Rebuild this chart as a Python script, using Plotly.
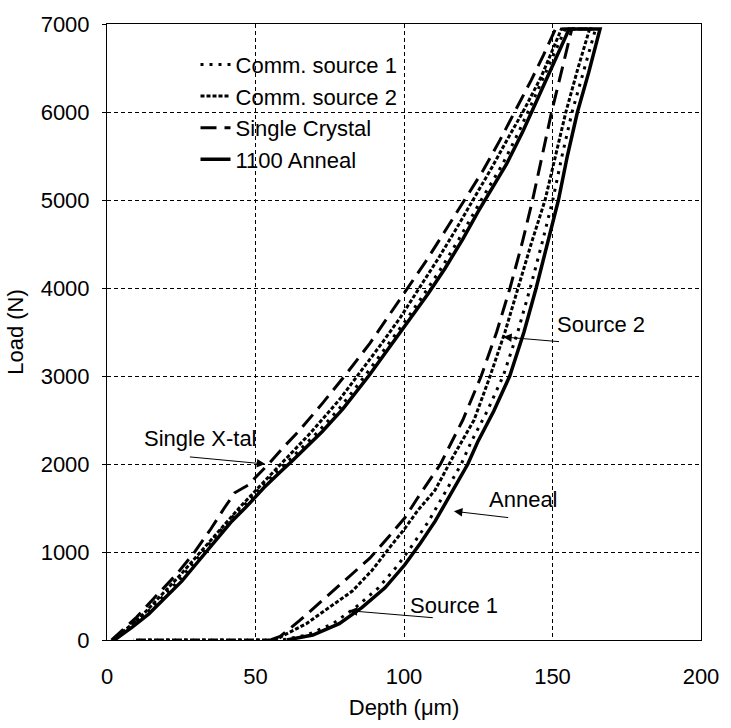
import plotly.graph_objects as go

# ---------------- data (depth in micrometres, load in N) ----------------
# Comm. source 1 : loading then unloading
c1_depth = [2, 7.5, 13, 18.5, 24, 29.5, 35, 40.5, 46, 51.5, 57.2, 61.2, 71.2, 78.2, 86.8, 96.1,
            101, 106.7, 112.5, 118.5, 123.7, 126.7, 133.2, 138.7, 144.2, 149.2, 154.3,
            164.5, 160.5, 156.6, 153.2, 150.1, 146.4, 142.5, 138.3, 133.4, 128, 122.6, 119.3,
            114.3, 108.3, 103.3, 98, 91.4, 83.7, 76, 67.3, 58.8, 9]
c1_load = [0, 148, 297, 483, 669, 892, 1115, 1338, 1524, 1729, 1914, 2040, 2370, 2630, 3000, 3430,
           3650, 3930, 4222, 4556, 4870, 5040, 5407, 5778, 6185, 6556, 6944,
           6944, 6450, 6000, 5500, 5000, 4500, 4000, 3500, 3000, 2600, 2250, 2000,
           1700, 1350, 1100, 852, 593, 370, 185, 56, 0, 0]

# Comm. source 2
c2_depth = [2, 11, 18, 25, 31.5, 38, 44.5, 51.5, 57.5, 68.5, 78.5, 86, 92.5, 98.8, 105.3, 111.5,
            117.5, 123.3, 129.6, 135, 140.5, 146.2, 153,
            162.5, 158.6, 154.5, 151, 147.5, 142.8, 138.3, 134, 129, 123.6, 116.8, 110.4,
            104.6, 100.1, 95.6, 89.2, 82.6, 74.8, 67.1, 59.4, 57, 9]
c2_load = [0, 250, 500, 750, 1000, 1250, 1500, 1750, 1963, 2352, 2741, 3074, 3370, 3667, 4000, 4333,
           4667, 5000, 5370, 5700, 6030, 6400, 6944,
           6944, 6500, 6000, 5500, 5000, 4500, 4000, 3500, 3000, 2500, 2100, 1700,
           1470, 1260, 1070, 790, 556, 365, 185, 52, 0, 0]

# Single crystal
sc_depth = [1.5, 10, 16.5, 23.5, 29.6, 35, 39.5, 43, 47.5, 54.4, 59.5, 64.5, 72.8, 80, 88.5, 96.5,
            101.3, 107.3, 113.5, 120.5, 126.7, 132.3, 137.8, 142.8, 147, 151,
            156.5, 153.2, 149.7, 146.5, 143.3, 139.7, 135.7, 131.2, 126, 119.8, 112.3, 104.3,
            100.3, 95, 88.5, 80.5, 72.6, 64.9, 58.3, 55]
sc_load = [0, 260, 500, 750, 1004, 1264, 1500, 1673, 1760, 2000, 2193, 2370, 2700, 3000, 3370, 3760,
           4000, 4300, 4630, 5000, 5340, 5680, 6030, 6360, 6650, 6944,
           6944, 6500, 6000, 5500, 5000, 4500, 4000, 3500, 3000, 2500, 2000, 1600,
           1389, 1180, 930, 690, 450, 222, 40, 0]

# 1100 Anneal
an_depth = [2.5, 8.6, 14.1, 19.6, 25.2, 30.7, 36.2, 41.7, 47.2, 52.8, 58.5, 62.5, 72.5, 79.5, 88.1,
            97.4, 102.3, 108, 113.8, 119.8, 125, 128, 134.5, 140, 145.5, 150.5, 155.6,
            166, 162.2, 158.4, 155, 152, 148.3, 144.5, 140.4, 135.6, 130.2, 124.8, 121.5,
            116.5, 110.5, 105.5, 100.2, 93.6, 85.9, 78.2, 69.3, 60.5]
an_load = [0, 148, 297, 483, 669, 892, 1115, 1338, 1524, 1729, 1914, 2040, 2370, 2630, 3000,
           3430, 3650, 3930, 4222, 4556, 4870, 5040, 5407, 5778, 6185, 6556, 6944,
           6944, 6450, 6000, 5500, 5000, 4500, 4000, 3500, 3000, 2600, 2250, 2000,
           1700, 1350, 1100, 852, 593, 370, 185, 56, 0]

series_names = ["Comm. source 1", "Comm. source 2", "Single Crystal", "1100 Anneal"]
x_ticks = [0, 50, 100, 150, 200]
y_ticks = [0, 1000, 2000, 3000, 4000, 5000, 6000, 7000]

# annotation texts with (text position) and (arrow tail -> tip) in data units
labels = ["Single X-tal", "Source 2", "Anneal", "Source 1"]
label_pos = [(11.9, 2290), (151, 3590), (127.9, 1600), (101.3, 390)]
arrow_tail = [(27.4, 2082), (152.7, 3389), (135.6, 1389), (110.2, 252)]
arrow_tip = [(53.3, 2000), (133.4, 3444), (116.8, 1463), (81.4, 333)]

# ---------------- figure ----------------
FONT = "Liberation Sans, Arial, sans-serif"
FS = 22
fig = go.Figure()

styles = [
    dict(width=3, dash="3px,6px"),
    dict(width=3, dash="4px,2px"),
    dict(width=3, dash="16px,8px"),
    dict(width=3.5, dash="solid"),
]
data = [(c1_depth, c1_load), (c2_depth, c2_load), (sc_depth, sc_load), (an_depth, an_load)]
for name, (xs, ys), st in zip(series_names, data, styles):
    fig.add_trace(go.Scatter(x=xs, y=ys, mode="lines", name=name,
                             line=dict(color="black", **st)))

for txt, (tx, ty), (ax, ay), (hx, hy) in zip(labels, label_pos, arrow_tail, arrow_tip):
    fig.add_annotation(x=tx, y=ty, text=txt, showarrow=False, xanchor="left", yanchor="middle",
                       font=dict(family=FONT, size=FS, color="black"))
    fig.add_annotation(x=hx, y=hy, ax=ax, ay=ay, axref="x", ayref="y", xref="x", yref="y",
                       text="", showarrow=True, arrowhead=2, arrowsize=1.7, arrowwidth=1,
                       arrowcolor="black")

fig.update_layout(
    width=731, height=728,
    margin=dict(l=107, r=20, t=16, b=81),
    paper_bgcolor="white", plot_bgcolor="white",
    font=dict(family=FONT, size=FS, color="black"),
    showlegend=True,
    legend=dict(x=0.149, y=0.968, xanchor="left", yanchor="top",
                bgcolor="rgba(0,0,0,0)", borderwidth=0, tracegroupgap=0,
                font=dict(family=FONT, size=FS)),
)
fig.update_xaxes(range=[0, 200], tickvals=x_ticks, showgrid=True, gridcolor="black",
                 gridwidth=1, griddash="4px,3px", zeroline=False,
                 showline=True, linecolor="black", linewidth=1, mirror=True,
                 ticks="", ticklabelstandoff=17,
                 title=dict(text="Depth (μm)", standoff=11, font=dict(size=FS)))
fig.update_yaxes(range=[0, 7000], tickvals=y_ticks, showgrid=True, gridcolor="black",
                 gridwidth=1, griddash="4px,3px", zeroline=False,
                 showline=True, linecolor="black", linewidth=1, mirror=True,
                 ticks="outside", ticklen=4, tickcolor="black", ticklabelstandoff=8,
                 title=dict(text="Load (N)", standoff=10, font=dict(size=FS)))

fig.write_html("out.html")
